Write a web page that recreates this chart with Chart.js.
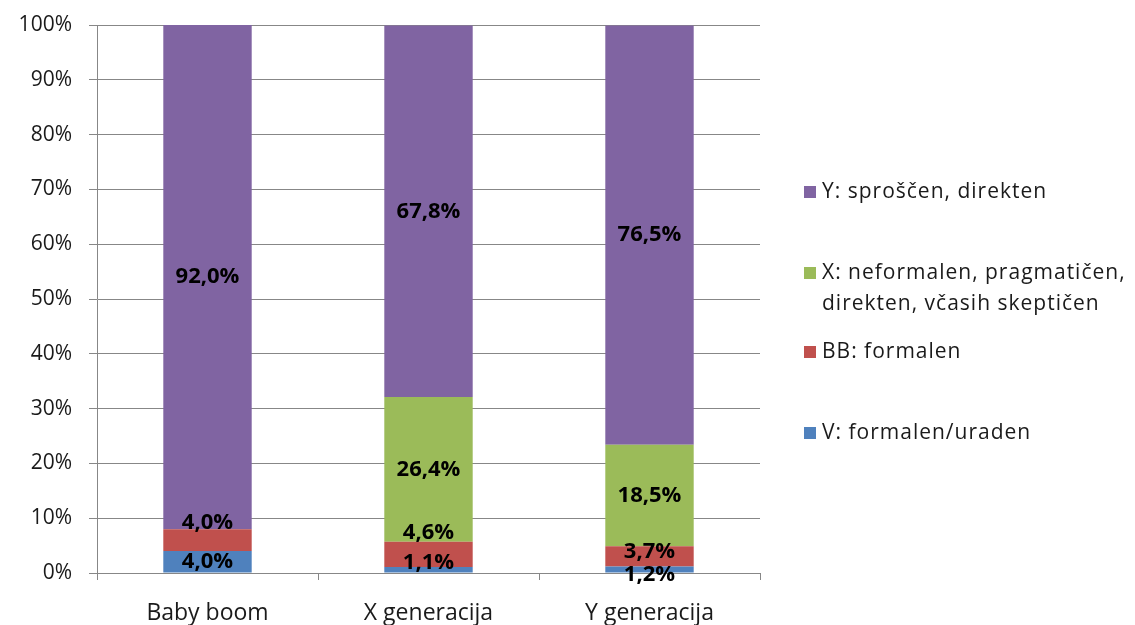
<!DOCTYPE html>
<html>
<head>
<meta charset="utf-8">
<script src="https://cdn.jsdelivr.net/npm/chart.js@4/dist/chart.umd.min.js"></script>
<style>
  html, body { margin: 0; padding: 0; background: #ffffff; }
  #wrap { width: 1135px; height: 625px; position: relative; }
</style>
</head>
<body>
<div id="wrap"><canvas id="chart"></canvas></div>
<script>
// Generations and their communication styles (percent of respondents)
const categories = ['Baby boom', 'X generacija', 'Y generacija'];
const seriesNames = [
  'V: formalen/uraden',
  'BB: formalen',
  'X: neformalen, pragmatičen, direkten, včasih skeptičen',
  'Y: sproščen, direkten'
];
const valuesV  = [4.0, 1.1, 1.2];
const valuesBB = [4.0, 4.6, 3.7];
const valuesX  = [0.0, 26.4, 18.5];
const valuesY  = [92.0, 67.8, 76.5];
const yTickValues = [0, 10, 20, 30, 40, 50, 60, 70, 80, 90, 100];

const seriesColors = ['#4F81BD', '#C0504D', '#9BBB59', '#8064A2'];
const FONT = "'Open Sans', 'DejaVu Sans', sans-serif";

// Plot frame
const PLOT = { left: 97, right: 760, top: 25, bottom: 573 };
const W = 1135, H = 625;

// Vertical nudges for value labels that would otherwise collide in thin segments
const labelNudge = [
  [0, -7, 5],
  [-17, -22, -5],
  [0, 0, 0],
  [0, 0, 0]
];

const fmt = v => v.toFixed(1).replace('.', ',') + '%';

const valueLabels = {
  id: 'valueLabels',
  afterDatasetsDraw(chart) {
    const ctx = chart.ctx;
    ctx.save();
    ctx.font = "bold 22px " + FONT;
    ctx.fillStyle = '#000000';
    ctx.textAlign = 'center';
    ctx.textBaseline = 'middle';
    chart.data.datasets.forEach((ds, di) => {
      const meta = chart.getDatasetMeta(di);
      meta.data.forEach((bar, i) => {
        const v = ds.data[i];
        if (!v) return;
        const cy = (bar.y + bar.base) / 2 + labelNudge[di][i];
        ctx.fillText(fmt(v), bar.x, cy);
      });
    });
    ctx.restore();
  }
};

// Legend on the right, listed from the top series downwards
const sideLegend = {
  id: 'sideLegend',
  afterDraw(chart) {
    const ctx = chart.ctx;
    const lineY = [192, 273, 352, 433];
    const lineH = 31;
    const boxX = 805, textX = 822, maxW = 320;
    ctx.save();
    ctx.font = "21px " + FONT;
    ctx.letterSpacing = '1px';
    ctx.textBaseline = 'middle';
    ctx.textAlign = 'left';
    const order = chart.data.datasets.map((d, i) => i).reverse();
    order.forEach((di, k) => {
      const ds = chart.data.datasets[di];
      const y = lineY[k];
      ctx.fillStyle = ds.backgroundColor;
      ctx.fillRect(boxX - 1, y - 6, 12, 12);
      // wrap the label text on word boundaries
      const words = ds.label.split(' ');
      const lines = [];
      let cur = '';
      words.forEach(w => {
        const t = cur ? cur + ' ' + w : w;
        if (ctx.measureText(t).width > maxW && cur) { lines.push(cur); cur = w; }
        else cur = t;
      });
      if (cur) lines.push(cur);
      ctx.fillStyle = '#1a1a1a';
      lines.forEach((ln, j) => ctx.fillText(ln, textX, y + j * lineH));
    });
    ctx.restore();
  }
};

const datasets = [valuesV, valuesBB, valuesX, valuesY].map((vals, i) => ({
  label: seriesNames[i],
  data: vals,
  backgroundColor: seriesColors[i],
  borderWidth: 0,
  barPercentage: 0.4,
  categoryPercentage: 1.0
}));

new Chart(document.getElementById('chart'), {
  type: 'bar',
  data: { labels: categories, datasets },
  options: {
    responsive: true,
    maintainAspectRatio: false,
    animation: false,
    layout: { padding: { left: 0, right: W - PLOT.right, top: PLOT.top, bottom: 0 } },
    plugins: {
      legend: { display: false },
      tooltip: { enabled: false }
    },
    scales: {
      x: {
        stacked: true,
        offset: true,
        grid: {
          display: true,
          offset: true,
          drawOnChartArea: false,
          drawTicks: true,
          tickLength: 7,
          color: '#878787',
          lineWidth: 1
        },
        border: { display: true, color: '#878787', width: 1 },
        ticks: {
          font: { family: FONT, size: 23, lineHeight: 1 },
          color: '#1a1a1a',
          padding: 22,
          maxRotation: 0
        },
        afterFit(scale) { scale.height = H - PLOT.bottom; }
      },
      y: {
        stacked: true,
        min: 0,
        max: 100,
        afterBuildTicks(scale) { scale.ticks = yTickValues.map(v => ({ value: v })); },
        grid: {
          color: '#878787',
          lineWidth: 1,
          drawTicks: true,
          tickLength: 8
        },
        border: { display: true, color: '#878787', width: 1 },
        ticks: {
          font: { family: FONT, size: 21 },
          color: '#1a1a1a',
          padding: 17,
          callback: v => v + '%'
        },
        afterFit(scale) {
          scale.width = PLOT.left;
          // keep the end labels from pushing the plot frame inwards
          scale.paddingTop = 12;
          scale.paddingBottom = 12;
        }
      }
    }
  },
  plugins: [valueLabels, sideLegend]
});
</script>
</body>
</html>
